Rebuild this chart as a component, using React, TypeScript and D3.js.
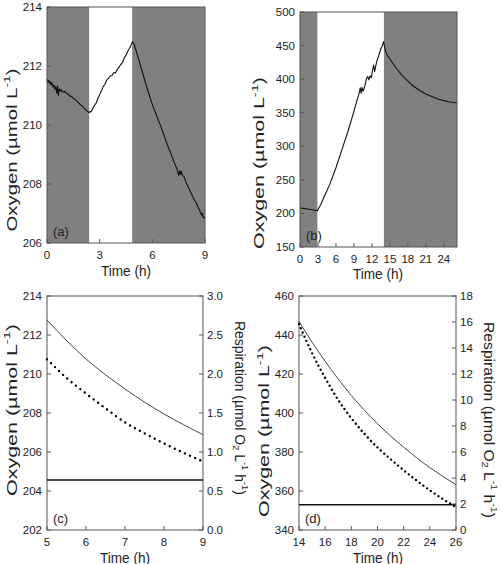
import React from 'react';
import * as d3 from 'd3';

// ---------- DATA ----------
// Panel (a): oxygen time series [time h, oxygen µmol/L]
const panelAOxygen: [number, number][] = [
  [0, 211.55], [0.05, 211.45], [0.1, 211.52], [0.15, 211.4], [0.2, 211.47], [0.25, 211.36],
  [0.3, 211.42], [0.35, 211.28], [0.4, 211.35], [0.45, 211.22], [0.5, 211.3], [0.55, 211.08],
  [0.6, 211.32], [0.65, 211.0], [0.7, 211.22], [0.75, 211.15], [0.8, 211.2], [0.9, 211.12],
  [1.0, 211.14], [1.1, 211.08], [1.2, 211.05], [1.3, 210.98], [1.4, 210.97], [1.5, 210.9],
  [1.6, 210.88], [1.7, 210.8], [1.8, 210.76], [1.9, 210.68], [2.0, 210.65], [2.1, 210.57],
  [2.2, 210.52], [2.3, 210.46], [2.4, 210.42], [2.45, 210.46], [2.5, 210.44], [2.6, 210.55],
  [2.7, 210.66], [2.8, 210.74], [2.9, 210.9], [3.0, 211.03], [3.1, 211.15], [3.2, 211.3],
  [3.3, 211.38], [3.4, 211.52], [3.5, 211.58], [3.6, 211.66], [3.7, 211.68], [3.8, 211.78],
  [3.9, 211.76], [4.0, 211.88], [4.1, 211.95], [4.2, 212.05], [4.3, 212.12], [4.4, 212.27],
  [4.5, 212.36], [4.6, 212.5], [4.7, 212.6], [4.8, 212.72], [4.87, 212.82], [4.95, 212.76],
  [5.0, 212.66], [5.2, 212.28], [5.4, 211.86], [5.6, 211.45], [5.8, 211.06], [6.0, 210.7],
  [6.2, 210.38], [6.4, 210.08], [6.6, 209.76], [6.8, 209.42], [7.0, 209.12], [7.2, 208.8],
  [7.4, 208.52], [7.5, 208.28], [7.55, 208.45], [7.6, 208.32], [7.65, 208.44], [7.7, 208.3],
  [7.8, 208.25], [7.9, 208.08], [8.0, 207.95], [8.1, 207.82], [8.2, 207.7], [8.3, 207.58],
  [8.4, 207.45], [8.5, 207.36], [8.6, 207.22], [8.7, 207.1], [8.8, 206.95], [8.85, 207.02],
  [8.9, 206.85], [8.95, 206.88], [9.0, 206.82],
];
const panelALight: [number, number] = [2.4, 4.85];
const panelAXDomain: [number, number] = [0, 9];
const panelAYDomain: [number, number] = [206, 214];
const panelAXTicks = [0, 3, 6, 9];
const panelAYTicks = [206, 208, 210, 212, 214];

// Panel (b)
const panelBOxygen: [number, number][] = [
  [0, 208], [1, 207], [2, 205.5], [2.9, 204], [3.5, 214], [4, 224], [5, 244], [6, 268],
  [7, 295], [8, 322], [9, 352], [9.5, 368], [9.9, 380], [10.05, 387], [10.2, 379], [10.35, 388],
  [10.5, 382], [10.7, 386], [10.9, 393], [11.1, 401], [11.3, 404], [11.5, 399], [11.7, 405],
  [11.9, 402], [12.1, 413], [12.3, 421], [12.45, 411], [12.6, 418], [12.8, 426], [13.1, 434],
  [13.4, 443], [13.7, 449], [13.95, 456], [14.1, 449], [14.3, 441], [14.6, 435], [15, 430],
  [16, 417], [17, 406], [18, 397], [19, 389], [20, 383], [21, 378], [22, 374], [23, 370.5],
  [24, 368], [25, 366], [26.2, 364.5],
];
const panelBLight: [number, number] = [2.9, 14.0];
const panelBXDomain: [number, number] = [0, 26.2];
const panelBYDomain: [number, number] = [150, 500];
const panelBXTicks = [0, 3, 6, 9, 12, 15, 18, 21, 24];
const panelBYTicks = [150, 200, 250, 300, 350, 400, 450, 500];

// Panel (c)
const panelCTime = [5, 5.5, 6, 6.5, 7, 7.5, 8, 8.5, 9];
const panelCOxygen = [212.77, 211.72, 210.77, 209.96, 209.23, 208.56, 207.95, 207.4, 206.89];
const panelCRespiration = [2.19, 1.95, 1.75, 1.56, 1.38, 1.24, 1.11, 0.99, 0.88];
const panelCThreshold = 0.64;
const panelCXTicks = [5, 6, 7, 8, 9];
const panelCYTicks = [202, 204, 206, 208, 210, 212, 214];
const panelCRTicks = [0, 0.5, 1.0, 1.5, 2.0, 2.5, 3.0];

// Panel (d)
const panelDTime = [14, 15, 16, 17, 18, 19, 20, 21, 22, 23, 24, 25, 26];
const panelDOxygen = [447, 436.3, 426.5, 417.4, 409, 401.4, 394.5, 388.2, 382.5, 377, 372, 367.5, 363.2];
const panelDRespiration = [15.85, 13.6, 11.7, 10.0, 8.6, 7.4, 6.35, 5.45, 4.6, 3.8, 3.05, 2.38, 1.75];
const panelDThreshold = 1.95;
const panelDXTicks = [14, 16, 18, 20, 22, 24, 26];
const panelDYTicks = [340, 360, 380, 400, 420, 440, 460];
const panelDRTicks = [0, 2, 4, 6, 8, 10, 12, 14, 16, 18];

// ---------- STYLE ----------
const FONT = "'Liberation Sans', Arial, Helvetica, sans-serif";
const TICK_FS = 11.5;
const TITLE_FS = 15;
const YTITLE_FS = 14.5;
const TXT = '#222';
const AXIS = '#555';
const SHADE = '#808080';

type Seg = { t: string; s?: 'sup' | 'sub' };

function rich(segs: Seg[], fs: number) {
  let cur = 0;
  return segs.map((sg, i) => {
    const target = sg.s === 'sup' ? -0.38 * fs : sg.s === 'sub' ? 0.22 * fs : 0;
    const dy = target - cur;
    cur = target;
    return (
      <tspan key={i} dy={dy} fontSize={sg.s ? fs * 0.68 : fs}>
        {sg.t}
      </tspan>
    );
  });
}

const oxyLabel: Seg[] = [{ t: 'Oxygen (µmol L' }, { t: '-1', s: 'sup' }, { t: ')' }];
const respLabel: Seg[] = [
  { t: 'Respiration (µmol O' }, { t: '2', s: 'sub' }, { t: ' L' }, { t: '-1', s: 'sup' },
  { t: ' h' }, { t: '-1', s: 'sup' }, { t: ')' },
];

function VTitle({ cx, cy, angle, segs, len, fs }: { cx: number; cy: number; angle: number; segs: Seg[]; len: number; fs: number }) {
  return (
    <text
      transform={`translate(${cx},${cy}) rotate(${angle})`}
      textAnchor="middle"
      dominantBaseline="central"
      fontSize={fs}
      fill={TXT}
      textLength={len}
      lengthAdjust="spacingAndGlyphs"
    >
      {rich(segs, fs)}
    </text>
  );
}

function HTitle({ cx, cy, label }: { cx: number; cy: number; label: string }) {
  return (
    <text
      x={cx}
      y={cy}
      textAnchor="middle"
      dominantBaseline="central"
      fontSize={TITLE_FS}
      fill={TXT}
      textLength={50}
      lengthAdjust="spacingAndGlyphs"
    >
      {label}
    </text>
  );
}

interface Box { x0: number; x1: number; y0: number; y1: number }

function XAxis({ box, x, ticks }: { box: Box; x: d3.ScaleLinear<number, number>; ticks: number[] }) {
  return (
    <g>
      {ticks.map((t) => (
        <g key={t}>
          <line x1={x(t)} x2={x(t)} y1={box.y1} y2={box.y1 - 4} stroke={AXIS} strokeWidth={1} />
          <text x={x(t)} y={box.y1 + 12} textAnchor="middle" dy="0.35em" fontSize={TICK_FS} fill={TXT}>
            {t}
          </text>
        </g>
      ))}
    </g>
  );
}

function YAxis({ box, y, ticks, side, fmt }: { box: Box; y: d3.ScaleLinear<number, number>; ticks: number[]; side: 'left' | 'right'; fmt: (v: number) => string }) {
  const xe = side === 'left' ? box.x0 : box.x1;
  const dir = side === 'left' ? 1 : -1;
  return (
    <g>
      {ticks.map((t) => (
        <g key={t}>
          <line x1={xe} x2={xe + dir * 4} y1={y(t)} y2={y(t)} stroke={AXIS} strokeWidth={1} />
          <text
            x={side === 'left' ? xe - 5 : xe + 4}
            y={y(t)}
            dy="0.35em"
            textAnchor={side === 'left' ? 'end' : 'start'}
            fontSize={TICK_FS}
            fill={TXT}
          >
            {fmt(t)}
          </text>
        </g>
      ))}
    </g>
  );
}

function TimeSeriesPanel({ box, data, light, xd, yd, xt, yt, tag, ylab, xlab }: any) {
  const x = d3.scaleLinear().domain(xd).range([box.x0, box.x1]);
  const y = d3.scaleLinear().domain(yd).range([box.y1, box.y0]);
  const line = d3.line<[number, number]>().x((d) => x(d[0])).y((d) => y(d[1]));
  return (
    <g>
      <rect x={box.x0} y={box.y0} width={box.x1 - box.x0} height={box.y1 - box.y0} fill={SHADE} />
      <rect x={x(light[0])} y={box.y0} width={x(light[1]) - x(light[0])} height={box.y1 - box.y0} fill="#fff" />
      <path d={line(data) || ''} fill="none" stroke="#111" strokeWidth={1.1} strokeLinejoin="round" />
      <rect x={box.x0} y={box.y0} width={box.x1 - box.x0} height={box.y1 - box.y0} fill="none" stroke={AXIS} strokeWidth={1} />
      <XAxis box={box} x={x} ticks={xt} />
      <YAxis box={box} y={y} ticks={yt} side="left" fmt={(v) => String(v)} />
      <text x={box.x0 + 6} y={box.y1 - 12} dy="0.35em" fontSize={13} fill={TXT}>{tag}</text>
      <VTitle cx={ylab[0]} cy={ylab[1]} angle={-90} segs={oxyLabel} len={ylab[2]} fs={YTITLE_FS} />
      <HTitle cx={xlab[0]} cy={xlab[1]} label="Time (h)" />
    </g>
  );
}

function FitPanel({ box, time, oxy, resp, thr, xt, yt, rt, tag, ylab, rlab, xlab, rfmt, dash }: any) {
  const x = d3.scaleLinear().domain([xt[0], xt[xt.length - 1]]).range([box.x0, box.x1]);
  const y = d3.scaleLinear().domain([yt[0], yt[yt.length - 1]]).range([box.y1, box.y0]);
  const r = d3.scaleLinear().domain([rt[0], rt[rt.length - 1]]).range([box.y1, box.y0]);
  const oxyLine = d3.line<number>().x((_, i) => x(time[i])).y((d) => y(d)).curve(d3.curveMonotoneX);
  const respLine = d3.line<number>().x((_, i) => x(time[i])).y((d) => r(d)).curve(d3.curveMonotoneX);
  return (
    <g>
      <rect x={box.x0} y={box.y0} width={box.x1 - box.x0} height={box.y1 - box.y0} fill="#fff" stroke={AXIS} strokeWidth={1} />
      <line x1={box.x0} x2={box.x1} y1={r(thr)} y2={r(thr)} stroke="#111" strokeWidth={1.5} />
      <path d={oxyLine(oxy) || ''} fill="none" stroke="#444" strokeWidth={1} />
      <path d={respLine(resp) || ''} fill="none" stroke="#000" strokeWidth={2.4} strokeLinecap="round" strokeDasharray={dash} />
      <XAxis box={box} x={x} ticks={xt} />
      <YAxis box={box} y={y} ticks={yt} side="left" fmt={(v) => String(v)} />
      <YAxis box={box} y={r} ticks={rt} side="right" fmt={rfmt} />
      <text x={box.x0 + 6} y={box.y1 - 12} dy="0.35em" fontSize={13} fill={TXT}>{tag}</text>
      <VTitle cx={ylab[0]} cy={ylab[1]} angle={-90} segs={oxyLabel} len={ylab[2]} fs={YTITLE_FS} />
      <VTitle cx={rlab[0]} cy={rlab[1]} angle={90} segs={respLabel} len={rlab[2]} fs={YTITLE_FS} />
      <HTitle cx={xlab[0]} cy={xlab[1]} label="Time (h)" />
    </g>
  );
}

export default function App() {
  return (
    <svg
      width={501}
      height={564}
      style={{ position: 'absolute', left: 0, top: 0, background: '#fff' }}
      fontFamily={FONT}
    >
      <TimeSeriesPanel
        box={{ x0: 47, x1: 205, y0: 7, y1: 243 }}
        data={panelAOxygen} light={panelALight} xd={panelAXDomain} yd={panelAYDomain}
        xt={panelAXTicks} yt={panelAYTicks} tag="(a)" ylab={[11.5, 150, 163]} xlab={[126, 270]}
      />
      <TimeSeriesPanel
        box={{ x0: 300, x1: 457, y0: 12, y1: 247 }}
        data={panelBOxygen} light={panelBLight} xd={panelBXDomain} yd={panelBYDomain}
        xt={panelBXTicks} yt={panelBYTicks} tag="(b)" ylab={[259, 163, 172]} xlab={[378, 273]}
      />
      <FitPanel
        box={{ x0: 47, x1: 203, y0: 296, y1: 530 }}
        time={panelCTime} oxy={panelCOxygen} resp={panelCRespiration} thr={panelCThreshold}
        xt={panelCXTicks} yt={panelCYTicks} rt={panelCRTicks} tag="(c)"
        ylab={[11.5, 410, 172]} rlab={[240, 408, 174]} xlab={[125, 557]} rfmt={(v: number) => v.toFixed(1)} dash="0 5.6"
      />
      <FitPanel
        box={{ x0: 299, x1: 456, y0: 296, y1: 530 }}
        time={panelDTime} oxy={panelDOxygen} resp={panelDRespiration} thr={panelDThreshold}
        xt={panelDXTicks} yt={panelDYTicks} rt={panelDRTicks} tag="(d)"
        ylab={[264, 431, 172]} rlab={[489, 420, 196]} xlab={[378, 557]} rfmt={(v: number) => String(v)} dash="0 4.6"
      />
    </svg>
  );
}
